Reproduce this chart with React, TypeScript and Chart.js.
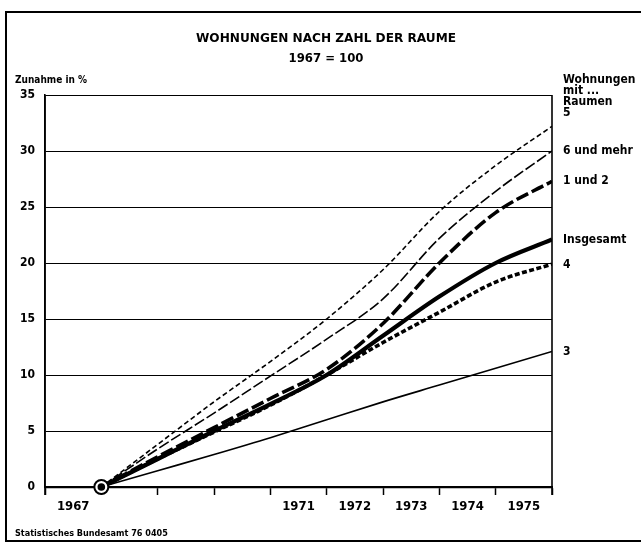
import React, { useEffect, useRef } from "react";
import { Chart, registerables } from "chart.js";

Chart.register(...registerables);

// ---- data ----
const years = [1967, 1968, 1969, 1970, 1971, 1972, 1973, 1974, 1975];
const labeledYears = [1967, 1971, 1972, 1973, 1974, 1975];
const yTicks = [0, 5, 10, 15, 20, 25, 30, 35];

const seriesNames = ["5", "6 und mehr", "1 und 2", "Insgesamt", "4", "3"];
const raum5 = [0, 3.8, 7.6, 11.2, 15.0, 19.4, 24.6, 28.7, 32.2];
const raum6 = [0, 3.4, 6.6, 9.9, 13.2, 16.8, 22.2, 26.4, 30.0];
const raum12 = [0, 2.7, 5.3, 7.9, 10.5, 14.6, 20.0, 24.5, 27.3];
const insgesamt = [0, 2.5, 5.0, 7.4, 10.0, 13.5, 17.0, 20.0, 22.1];
const raum4 = [0, 2.5, 4.9, 7.3, 10.0, 12.9, 15.6, 18.3, 19.9];
const raum3 = [0, 1.45, 2.9, 4.4, 6.0, 7.6, 9.1, 10.6, 12.1];

const titleText = "WOHNUNGEN NACH ZAHL DER RAUME";
const subtitleText = "1967 = 100";
const yAxisTitle = "Zunahme in %";
const legendHeader = ["Wohnungen", "mit ...", "Raumen"];
const sourceText = "Statistisches Bundesamt 76 0405";

const FONT = "'DejaVu Sans Condensed', 'Liberation Sans Narrow', 'DejaVu Sans', sans-serif";

const styles = [
  { width: 1.6, dash: [5, 3] },
  { width: 1.6, dash: [11, 3] },
  { width: 3.6, dash: [13, 4] },
  { width: 4.2, dash: [] as number[] },
  { width: 3.6, dash: [5, 2.5] },
  { width: 1.6, dash: [] as number[] },
];
const labelOffsets = [-13, 0, 0, 0, 1, 0];

const allSeries = [raum5, raum6, raum12, insgesamt, raum4, raum3];

const decorPlugin = {
  id: "decor",
  afterDatasetsDraw(chart: any) {
    const ctx = chart.ctx;
    const xs = chart.scales.x;
    const ys = chart.scales.y;
    const ox = xs.getPixelForValue(years[0] + 1);
    const oy = ys.getPixelForValue(0);
    ctx.save();
    ctx.beginPath();
    ctx.arc(ox, oy, 7, 0, Math.PI * 2);
    ctx.fillStyle = "#fff";
    ctx.fill();
    ctx.lineWidth = 2;
    ctx.strokeStyle = "#000";
    ctx.stroke();
    ctx.beginPath();
    ctx.arc(ox, oy, 3.8, 0, Math.PI * 2);
    ctx.fillStyle = "#000";
    ctx.fill();
    ctx.restore();
  },
  afterDraw(chart: any) {
    const ctx = chart.ctx;
    const area = chart.chartArea;
    const ys = chart.scales.y;
    ctx.save();
    // outer frame
    ctx.strokeStyle = "#000";
    ctx.lineWidth = 2;
    ctx.beginPath();
    ctx.moveTo(660, 12);
    ctx.lineTo(6, 12);
    ctx.lineTo(6, 541);
    ctx.lineTo(660, 541);
    ctx.stroke();
    // right border of plot
    ctx.lineWidth = 1.6;
    ctx.beginPath();
    ctx.moveTo(area.right, area.top);
    ctx.lineTo(area.right, area.bottom + 8);
    ctx.stroke();
    // left axis
    ctx.beginPath();
    ctx.moveTo(area.left, area.top);
    ctx.lineTo(area.left, area.bottom + 8);
    ctx.stroke();

    ctx.fillStyle = "#000";
    // title
    ctx.font = "bold 12px 'DejaVu Sans', sans-serif";
    ctx.textBaseline = "alphabetic";
    ctx.textAlign = "left";
    const tw = ctx.measureText(titleText).width;
    const target = 260;
    ctx.save();
    ctx.translate(326 - target / 2, 42);
    ctx.scale(target / tw, 1);
    ctx.fillText(titleText, 0, 0);
    ctx.restore();
    ctx.textAlign = "center";
    ctx.font = `bold 13px ${FONT}`;
    ctx.fillText(subtitleText, 326, 62);

    // y axis title
    ctx.textAlign = "left";
    ctx.font = `bold 10px ${FONT}`;
    ctx.fillText(yAxisTitle, 15, 83);

    // source
    ctx.font = `bold 9px ${FONT}`;
    ctx.fillText(sourceText, 15, 536);

    // right labels
    ctx.font = `bold 12px ${FONT}`;
    ctx.textBaseline = "middle";
    const lx = area.right + 11;
    let y5 = 0;
    seriesNames.forEach((name, i) => {
      const s = allSeries[i];
      const y = ys.getPixelForValue(s[s.length - 1]) + labelOffsets[i];
      if (i === 0) y5 = y;
      ctx.fillText(name, lx, y);
    });
    legendHeader.forEach((t, i) => {
      ctx.fillText(t, lx, y5 - 11 * (legendHeader.length - i));
    });
    ctx.restore();
  },
};

export default function App() {
  const ref = useRef<HTMLCanvasElement | null>(null);
  useEffect(() => {
    if (!ref.current) return;
    const datasets = allSeries.map((s, i) => ({
      label: seriesNames[i],
      data: s.map((v, j) => ({ x: years[j] + 1, y: v })),
      borderColor: "#000",
      borderWidth: styles[i].width,
      borderDash: styles[i].dash,
      borderCapStyle: "butt" as const,
      pointRadius: 0,
      fill: false,
      cubicInterpolationMode: "monotone" as const,
    }));
    const chart = new Chart(ref.current, {
      type: "line",
      data: { datasets },
      plugins: [decorPlugin],
      options: {
        animation: false,
        responsive: false,
        layout: { padding: { left: 0, top: 95, right: 89, bottom: 27 } },
        plugins: {
          legend: { display: false },
          title: { display: false },
          tooltip: { enabled: false },
        },
        scales: {
          x: {
            type: "linear",
            min: years[0],
            max: years[years.length - 1] + 1,
            afterFit: (scale: any) => {
              scale.height = 30;
            },
            ticks: {
              stepSize: 0.5,
              autoSkip: false,
              maxRotation: 0,
              minRotation: 0,
              padding: 4,
              color: "#000",
              font: { family: FONT, size: 13, weight: "bold" },
              callback: (value: any) => {
                const v = Number(value);
                const frac = v - Math.floor(v);
                if (Math.abs(frac - 0.5) < 1e-6) {
                  const yr = Math.floor(v);
                  return labeledYears.includes(yr) ? String(yr) : "";
                }
                return "";
              },
            },
            grid: {
              drawOnChartArea: false,
              drawTicks: true,
              tickLength: 8,
              tickWidth: 1.5,
              tickColor: (c: any) =>
                c.tick && Math.abs(c.tick.value - Math.round(c.tick.value)) < 1e-6
                  ? "#000"
                  : "rgba(0,0,0,0)",
            },
            border: { display: true, color: "#000", width: 2.2 },
          },
          y: {
            type: "linear",
            min: 0,
            max: 35,
            afterFit: (scale: any) => {
              scale.width = 45;
            },
            afterBuildTicks: (scale: any) => {
              scale.ticks = yTicks.map((v) => ({ value: v }));
            },
            ticks: {
              padding: 10,
              color: "#000",
              font: { family: FONT, size: 12, weight: "bold" },
            },
            grid: {
              color: "#000",
              lineWidth: 1,
              drawTicks: false,
            },
            border: { display: true, color: "#000", width: 1.6 },
          },
        },
      },
    });
    return () => chart.destroy();
  }, []);
  return (
    <div
      style={{
        position: "absolute",
        left: 0,
        top: 0,
        width: 641,
        height: 544,
        background: "#fff",
      }}
    >
      <canvas ref={ref} width={641} height={544} />
    </div>
  );
}
